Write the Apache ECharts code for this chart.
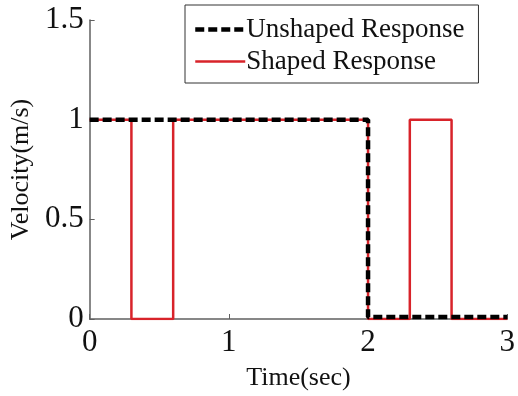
<!DOCTYPE html>
<html>
<head>
<meta charset="utf-8">
<script src="https://cdn.jsdelivr.net/npm/echarts@6/dist/echarts.min.js"></script>
<style>
  html, body { margin: 0; padding: 0; background: #fff; }
  #chart { width: 518px; height: 396px; }
</style>
</head>
<body>
<div id="chart"></div>
<script>
// Step responses: each value holds until the next switching time.
const unshapedTimes = [0, 2, 3];
const unshapedValues = [1, 0.01, 0.01];
const shapedTimes = [0, 0.3, 0.6, 2, 2.3, 2.6, 3];
const shapedValues = [1, 0, 1, 0, 1, 0, 0];
const xTicks = [0, 1, 2, 3];
const yTicks = [0, 0.5, 1, 1.5];

const serif = "'Liberation Serif', 'Times New Roman', serif";
const axisGray = '#606060';
const red = '#d8232a';

const pairs = (xs, ys) => xs.map((x, i) => [x, ys[i]]);

const chart = echarts.init(document.getElementById('chart'), null, { renderer: 'canvas' });
chart.setOption({
  animation: false,
  backgroundColor: '#fff',
  grid: { left: 88, right: 5, top: 20, bottom: 74, containLabel: false },
  legend: {
    orient: 'vertical',
    left: 185,
    top: 5,
    padding: [11, 14, 8, 8],
    itemWidth: 50,
    itemHeight: 14,
    itemGap: 5,
    borderColor: '#333',
    borderWidth: 1,
    backgroundColor: '#fff',
    itemStyle: { opacity: 0 },
    textStyle: { fontFamily: serif, fontSize: 27, lineHeight: 27, color: '#111', padding: [0, 0, 0, -4] },
    data: [
      { name: 'Unshaped Response', lineStyle: { color: '#000', width: 4.5, type: [9, 4], cap: 'butt' } },
      { name: 'Shaped Response', lineStyle: { color: red, width: 2.5 } }
    ]
  },
  xAxis: {
    type: 'value',
    min: xTicks[0],
    max: xTicks[xTicks.length - 1],
    interval: 1,
    name: 'Time(sec)',
    nameLocation: 'middle',
    nameGap: 46,
    nameTextStyle: { fontFamily: serif, fontSize: 26, color: '#111' },
    axisLine: { show: true, lineStyle: { color: axisGray, width: 1.5 } },
    axisTick: { show: true, inside: true, length: 5, lineStyle: { color: axisGray } },
    axisLabel: { fontFamily: serif, fontSize: 31, color: '#111', margin: 8,
      formatter: v => String(v) },
    splitLine: { show: false }
  },
  yAxis: {
    type: 'value',
    min: yTicks[0],
    max: yTicks[yTicks.length - 1],
    interval: 0.5,
    name: 'Velocity(m/s)',
    nameLocation: 'middle',
    nameGap: 54,
    nameTextStyle: { fontFamily: serif, fontSize: 26, color: '#111' },
    axisLine: { show: true, lineStyle: { color: axisGray, width: 1.5 } },
    axisTick: { show: true, inside: true, length: 5, lineStyle: { color: axisGray } },
    axisLabel: { fontFamily: serif, fontSize: 31, color: '#111', margin: 6,
      formatter: v => String(v) },
    splitLine: { show: false }
  },
  series: [
    {
      name: 'Shaped Response',
      type: 'line',
      step: 'end',
      symbol: 'none',
      z: 2,
      color: red,
      lineStyle: { color: red, width: 2.5 },
      data: pairs(shapedTimes, shapedValues)
    },
    {
      name: 'Unshaped Response',
      type: 'line',
      step: 'end',
      symbol: 'none',
      z: 3,
      color: '#000',
      lineStyle: { color: '#000', width: 4.5, type: [9, 4], cap: 'butt' },
      data: pairs(unshapedTimes, unshapedValues)
    }
  ]
});
</script>
</body>
</html>
